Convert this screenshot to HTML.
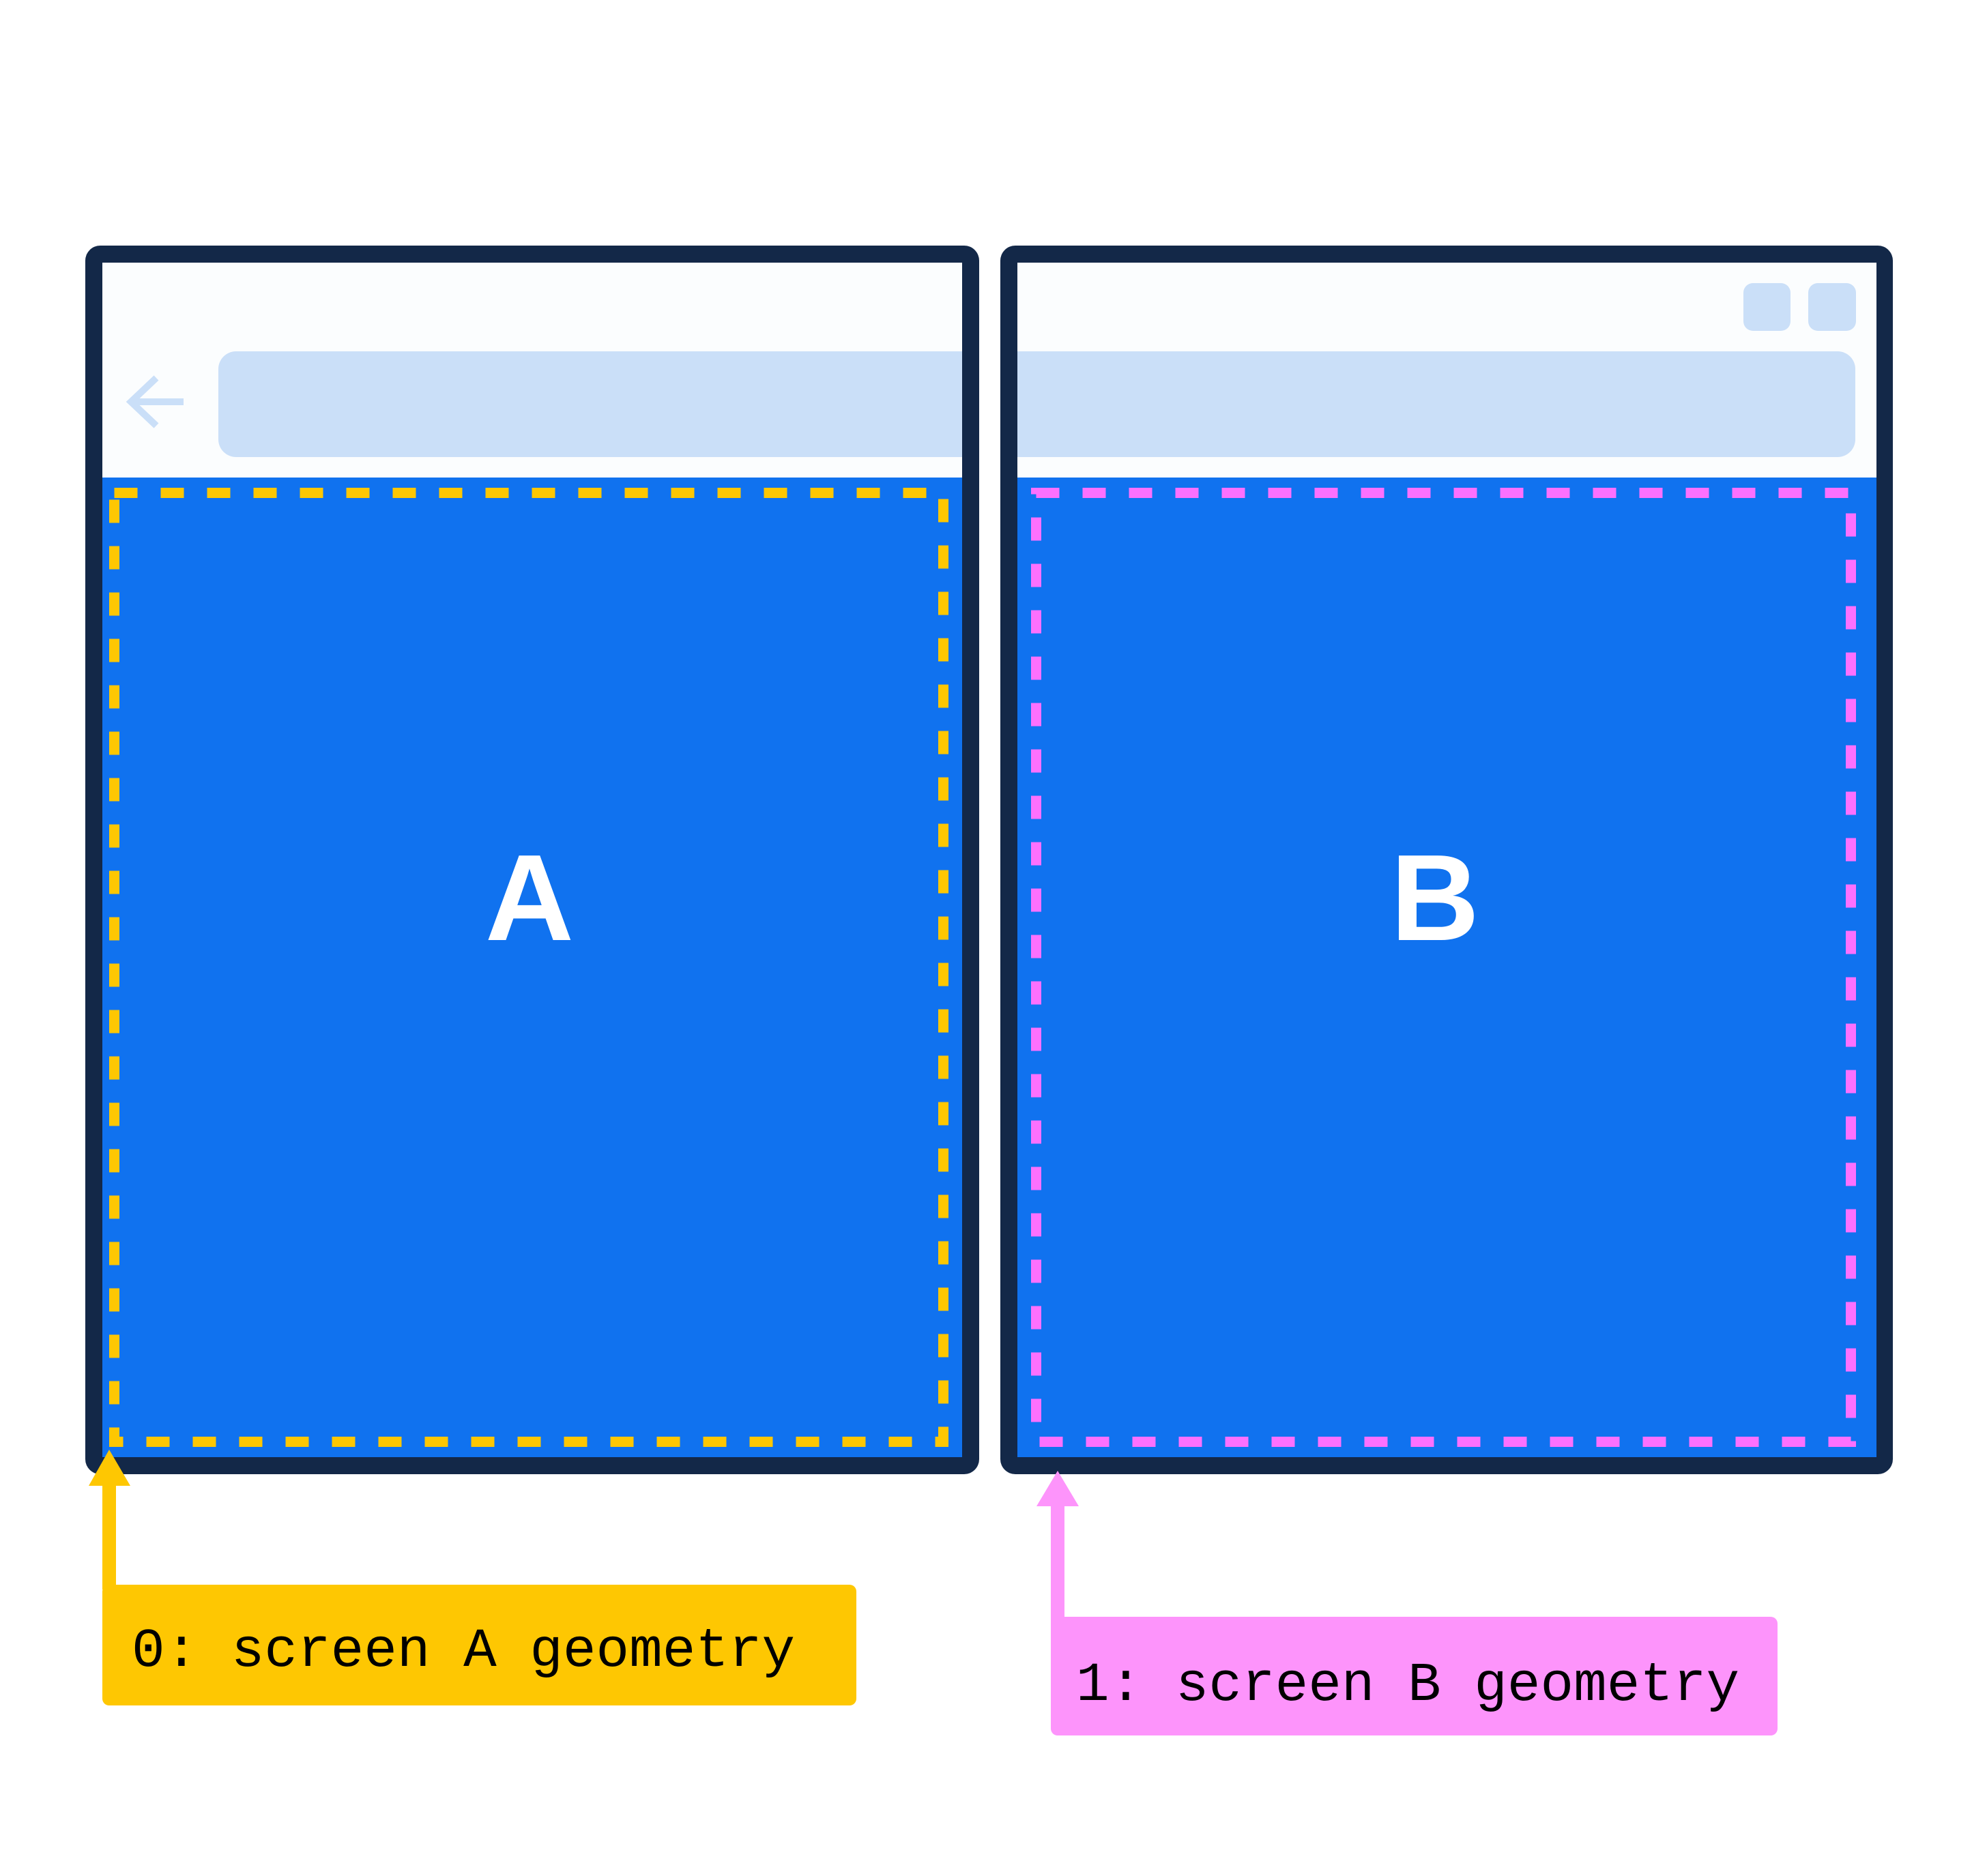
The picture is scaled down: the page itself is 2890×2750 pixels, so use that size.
<!DOCTYPE html>
<html><head><meta charset="utf-8"><style>
html,body{margin:0;padding:0;background:#fff;}
svg{display:block;}
</style></head><body>
<svg width="2890" height="2750" viewBox="0 0 2890 2750" xmlns="http://www.w3.org/2000/svg">
  <rect x="0" y="0" width="2890" height="2750" fill="#ffffff"/>

  <!-- Screen A -->
  <g>
    <rect x="125" y="360" width="1310" height="1801" rx="22" fill="#132848"/>
    <rect x="150" y="385" width="1260" height="315" fill="#fbfdfe"/>
    <rect x="150" y="700" width="1260" height="1436" fill="#1072ef"/>
    <rect x="320" y="515" width="1090" height="155" rx="26" fill="#cadff8"/>
    <rect x="1380" y="515" width="30" height="155" fill="#cadff8"/>
    <g stroke="#cadff8" stroke-width="10" fill="none">
      <line x1="192" y1="589" x2="269" y2="589"/>
      <polyline points="229,554 192,589 229,624"/>
    </g>
    <rect x="167.5" y="722.5" width="1215" height="1391" fill="none" stroke="#fec702" stroke-width="15" stroke-dasharray="34 34"/>
    <text x="776" y="1378" text-anchor="middle" font-family="Liberation Sans, sans-serif" font-weight="bold" font-size="180" fill="#ffffff">A</text>
  </g>

  <!-- Screen B -->
  <g>
    <rect x="1466" y="360" width="1308" height="1801" rx="22" fill="#132848"/>
    <rect x="1491" y="385" width="1259" height="315" fill="#fbfdfe"/>
    <rect x="1491" y="700" width="1259" height="1436" fill="#1072ef"/>
    <rect x="1491" y="515" width="1228" height="155" rx="26" fill="#cadff8"/>
    <rect x="1491" y="515" width="40" height="155" fill="#cadff8"/>
    <rect x="2555" y="415" width="69" height="70" rx="14" fill="#cadff8"/>
    <rect x="2650" y="415" width="70" height="70" rx="14" fill="#cadff8"/>
    <rect x="1518.5" y="722.5" width="1194" height="1391" fill="none" stroke="#fd70fe" stroke-width="15" stroke-dasharray="34 34"/>
    <text x="2103" y="1378" text-anchor="middle" font-family="Liberation Sans, sans-serif" font-weight="bold" font-size="180" fill="#ffffff">B</text>
  </g>

  <!-- Callout A -->
  <g>
    <rect x="150" y="2170" width="20" height="160" fill="#fec702"/>
    <polygon points="160,2125 191,2178 130,2178" fill="#fec702"/>
    <rect x="150" y="2323" width="1105" height="177" rx="10" fill="#fec702"/>
    <text x="193" y="2442" font-family="Liberation Mono, monospace" font-size="81" fill="#000">0: screen A geometry</text>
  </g>

  <!-- Callout B -->
  <g>
    <rect x="1540" y="2200" width="20" height="180" fill="#fd94fb"/>
    <polygon points="1550,2156 1581,2208 1519,2208" fill="#fd94fb"/>
    <rect x="1540" y="2370" width="1065" height="174" rx="10" fill="#fd94fb"/>
    <text x="1577" y="2492" font-family="Liberation Mono, monospace" font-size="81" fill="#000">1: screen B geometry</text>
  </g>
</svg>
</body></html>
